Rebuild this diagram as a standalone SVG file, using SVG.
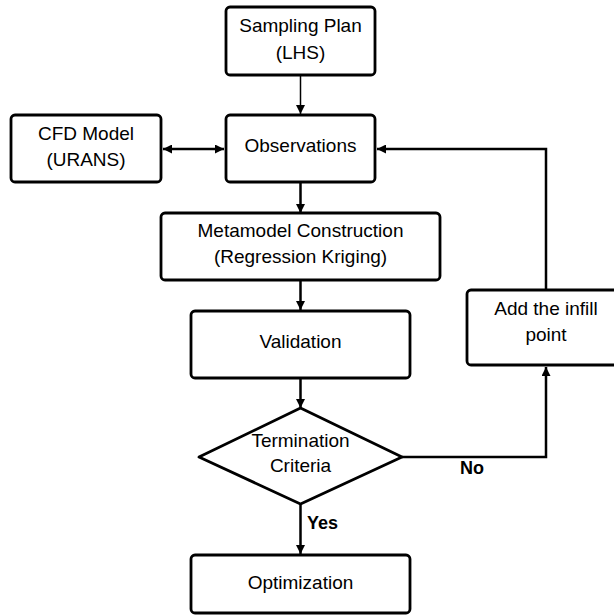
<svg xmlns="http://www.w3.org/2000/svg" width="614" height="615" viewBox="0 0 614 615">
<defs>
<style>
.box{fill:#fff;stroke:#000;stroke-width:2.8}
.t{font-family:"Liberation Sans",Arial,sans-serif;font-size:19px;fill:#000;text-anchor:middle}
.lb{font-family:"Liberation Sans",Arial,sans-serif;font-size:18px;font-weight:bold;fill:#000}
.ln{fill:none;stroke:#000;stroke-width:2.5}
.thin{fill:none;stroke:#000;stroke-width:1.5}
</style>
<marker id="ah" viewBox="0 0 10 10" refX="10" refY="5" markerWidth="11" markerHeight="9" markerUnits="userSpaceOnUse" orient="auto-start-reverse">
<path d="M0,0 L10,5 L0,10 z" fill="#000"/>
</marker>
</defs>
<rect width="614" height="615" fill="#fff"/>
<g id="connectors">
<line class="thin" x1="300.5" y1="75" x2="300.5" y2="114" marker-end="url(#ah)"/>
<line class="ln" x1="163" y1="149" x2="224" y2="149" marker-start="url(#ah)" marker-end="url(#ah)"/>
<line class="ln" x1="300.5" y1="182" x2="300.5" y2="213" marker-end="url(#ah)"/>
<line class="ln" x1="300.5" y1="280" x2="300.5" y2="310" marker-end="url(#ah)"/>
<line class="ln" x1="300.5" y1="378" x2="300.5" y2="408" marker-end="url(#ah)"/>
<line class="ln" x1="300.5" y1="504" x2="300.5" y2="554" marker-end="url(#ah)"/>
<polyline class="ln" points="402,457 546,457 546,367" marker-end="url(#ah)"/>
<polyline class="ln" points="546,290 546,149 377,149" marker-end="url(#ah)"/>
<text class="lb" x="307" y="529">Yes</text>
<text class="lb" x="460" y="474">No</text>
</g>
<g id="sampling">
<rect class="box" x="226" y="7" width="149" height="68" rx="4"/>
<text class="t" x="300.5" y="32">Sampling Plan</text>
<text class="t" x="300.5" y="59">(LHS)</text>
</g>
<g id="cfd">
<rect class="box" x="11" y="115" width="150" height="67" rx="4"/>
<text class="t" x="86" y="140">CFD Model</text>
<text class="t" x="86" y="166">(URANS)</text>
</g>
<g id="observations">
<rect class="box" x="226" y="115" width="149" height="67" rx="4"/>
<text class="t" x="300.5" y="152">Observations</text>
</g>
<g id="metamodel">
<rect class="box" x="161" y="213" width="279" height="67" rx="4"/>
<text class="t" x="300.5" y="237">Metamodel Construction</text>
<text class="t" x="300.5" y="263">(Regression Kriging)</text>
</g>
<g id="validation">
<rect class="box" x="191" y="311" width="219" height="67" rx="4"/>
<text class="t" x="300.5" y="348">Validation</text>
</g>
<g id="termination">
<polygon class="box" points="300.5,408 402,457 300.5,504 199,457" stroke-linejoin="round"/>
<text class="t" x="300.5" y="447">Termination</text>
<text class="t" x="300.5" y="472">Criteria</text>
</g>
<g id="infill">
<rect class="box" x="467" y="290" width="160" height="75" rx="4"/>
<text class="t" x="546" y="315">Add the infill</text>
<text class="t" x="546" y="341">point</text>
</g>
<g id="optimization">
<rect class="box" x="191" y="555" width="219" height="58" rx="4"/>
<text class="t" x="300.5" y="589">Optimization</text>
</g>
</svg>
